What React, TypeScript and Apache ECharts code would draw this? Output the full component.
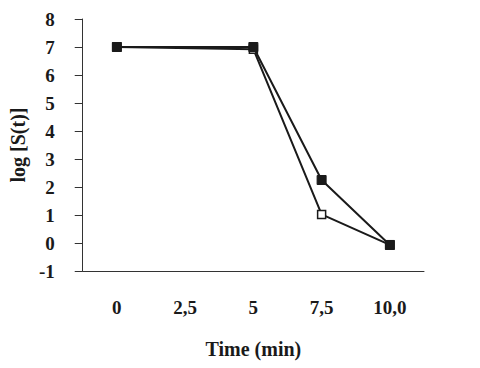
import React, { useEffect, useRef } from "react";
import * as echarts from "echarts";

const categories = ["0", "2,5", "5", "7,5", "10,0"];
const filledSeries: (number | null)[][] = [
  [0, 7.0],
  [2, 7.0],
  [3, 2.25],
  [4, -0.07],
];
const openSeries: (number | null)[][] = [
  [0, 7.0],
  [2, 6.92],
  [3, 1.02],
  [4, -0.07],
];
const yMin = -1;
const yMax = 8;
const yInterval = 1;
const xName = "Time (min)";
const yName = "log [S(t)]";

const font = "'Liberation Serif', 'Times New Roman', serif";

export default function App() {
  const ref = useRef<HTMLDivElement>(null);
  useEffect(() => {
    if (!ref.current) return;
    const chart = echarts.init(ref.current, null, { renderer: "svg" });
    chart.setOption({
      animation: false,
      backgroundColor: "#ffffff",
      grid: { left: 80, right: 56, top: 19, bottom: 97 },
      xAxis: {
        type: "category",
        data: categories,
        boundaryGap: true,
        name: xName,
        nameLocation: "middle",
        nameGap: 68,
        nameTextStyle: { fontFamily: font, fontSize: 20, fontWeight: "bold", color: "#1a1a1a" },
        axisLine: { onZero: false, lineStyle: { color: "#333", width: 1 } },
        axisTick: { alignWithLabel: true, length: 7, lineStyle: { color: "#333" } },
        axisLabel: { fontFamily: font, fontSize: 19, fontWeight: "bold", color: "#1a1a1a", margin: 27 },
        splitLine: { show: false },
      },
      yAxis: {
        type: "value",
        min: yMin,
        max: yMax,
        interval: yInterval,
        name: yName,
        nameLocation: "middle",
        nameGap: 54,
        nameRotate: 90,
        nameTextStyle: { fontFamily: font, fontSize: 20, fontWeight: "bold", color: "#1a1a1a" },
        axisLine: { show: true, lineStyle: { color: "#333", width: 1 } },
        axisTick: { show: true, length: 8, lineStyle: { color: "#333" } },
        axisLabel: { fontFamily: font, fontSize: 19, fontWeight: "bold", color: "#1a1a1a", margin: 28 },
        splitLine: { show: false },
      },
      series: [
        {
          type: "line",
          data: openSeries,
          symbol: "rect",
          symbolSize: 8,
          lineStyle: { color: "#1a1a1a", width: 2 },
          itemStyle: { color: "#ffffff", borderColor: "#1a1a1a", borderWidth: 1.5 },
          z: 2,
        },
        {
          type: "line",
          data: filledSeries,
          symbol: "rect",
          symbolSize: 9,
          lineStyle: { color: "#1a1a1a", width: 2 },
          itemStyle: { color: "#1a1a1a", borderColor: "#1a1a1a", borderWidth: 1 },
          z: 3,
        },
      ],
    });
    return () => chart.dispose();
  }, []);
  return <div ref={ref} style={{ width: 480, height: 368, position: "absolute", left: 0, top: 0 }} />;
}
